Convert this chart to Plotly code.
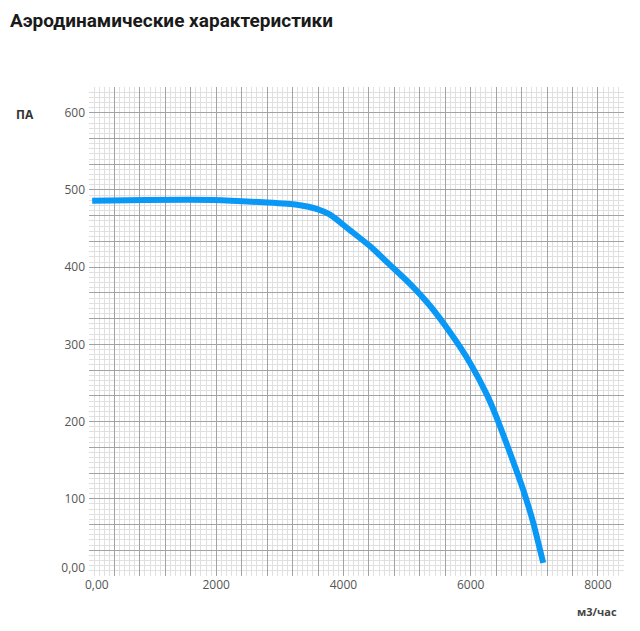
import plotly.graph_objects as go

# данные кривой (расход м3/час, давление Па)
flow = [50, 900, 1950, 2740, 3270, 3600, 3790, 4100, 4420, 4730, 5050, 5360, 5680, 5990, 6260, 6380,
        6620, 6820, 6980, 7140]
pressure = [486, 487, 487, 484, 481, 475, 468, 448, 427, 403, 378, 350, 315, 276, 234, 211,
            159, 113, 70, 17]

# деления осей
x_grid = [i * 400 for i in range(21)]
x_labels = ['\u00a0' * 5 + '0,00' if v == 0 else (str(v) if v % 2000 == 0 else '') for v in x_grid]
y_grid = [i * 100 / 3 for i in range(20)]
y_labels = ['0,00<br>\u00a0' if i == 0 else (str(i * 100 // 3) if i % 3 == 0 else '') for i in range(20)]

fig = go.Figure()
fig.add_trace(go.Scatter(x=flow, y=pressure, mode='lines',
                         line=dict(color='#0a98f7', width=6, shape='spline', smoothing=0.6),
                         showlegend=False, hoverinfo='x+y'))

# страница сдвигает график на 8px, поэтому размеры чуть меньше окна
fig.update_layout(
    width=632, height=623,
    margin=dict(l=81, r=16, t=79, b=55),
    paper_bgcolor='white', plot_bgcolor='white',
    font=dict(family='Open Sans', size=12, color='#555'),
    title=dict(text='<b>Аэродинамические характеристики</b>', x=0.003, xanchor='left',
               y=0.98, yanchor='middle', font=dict(family='Roboto', size=19, color='#1a1a1a')),
)

grid = dict(showgrid=True, gridcolor='#a3a3a3', gridwidth=1.3, zeroline=False, showline=False,
            ticks='', tickmode='array')
minor = dict(tickmode='linear', tick0=0, showgrid=True, gridcolor='#e0e0e0', gridwidth=1)

fig.update_xaxes(range=[0, 8410], tickvals=x_grid, ticktext=x_labels,
                 minor=dict(minor, dtick=80), **grid)
fig.update_yaxes(range=[0, 633.4], tickvals=y_grid, ticktext=y_labels,
                 minor=dict(minor, dtick=100 / 15), ticklabelstandoff=3, **grid)

# подписи единиц
fig.add_annotation(text='<b>ПА</b>', xref='paper', yref='paper', x=-0.12, y=0.943,
                   xanchor='center', yanchor='middle',
                   showarrow=False, font=dict(size=12, color='#333'))
fig.add_annotation(text='<b>м3/час</b>', xref='paper', yref='paper', x=0.95, y=-0.072,
                   xanchor='center', yanchor='middle',
                   showarrow=False, font=dict(size=11, color='#444'))

fig.write_html('out.html')
